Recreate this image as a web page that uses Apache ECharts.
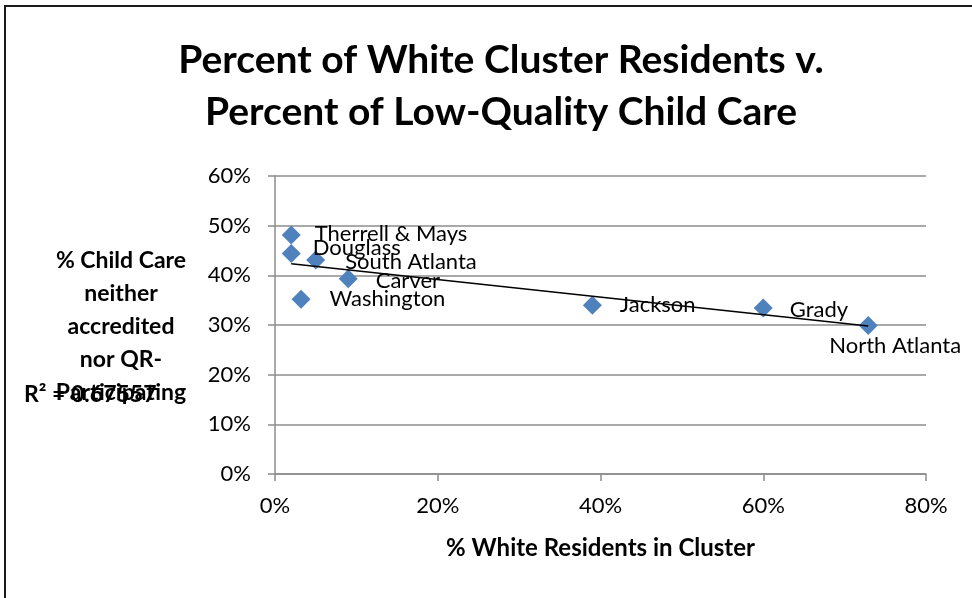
<!DOCTYPE html>
<html>
<head>
<meta charset="utf-8">
<script src="https://cdn.jsdelivr.net/npm/echarts@6/dist/echarts.min.js"></script>
<style>
  html, body { margin: 0; padding: 0; background: #fff; }
  #chart { width: 972px; height: 598px; }
</style>
</head>
<body>
<div id="chart"></div>
<script>
// Cluster names and their values (fractions)
const clusters = ['Therrell & Mays', 'Douglass', 'South Atlanta', 'Carver', 'Washington', 'Jackson', 'Grady', 'North Atlanta'];
const whiteShare = [0.020, 0.020, 0.050, 0.090, 0.032, 0.390, 0.600, 0.729];
const lowQualityShare = [0.481, 0.444, 0.431, 0.393, 0.352, 0.340, 0.334, 0.299];
const yTicks = [0, 0.1, 0.2, 0.3, 0.4, 0.5, 0.6];
const xTicks = [0, 0.2, 0.4, 0.6, 0.8];
const rSquaredText = 'R² = 0.67557';

// Label placement per cluster: [position, dx, dy]
const labelPlacement = [
  ['right', 9, -1],
  ['right', 7, -6],
  ['right', 15, 2],
  ['right', 13, 2],
  ['right', 14, 0],
  ['right', 13, 0],
  ['right', 12, 2],
  ['bottom', 27, -5]
];

// Least-squares linear trend
function linearFit(xs, ys) {
  const n = xs.length;
  const mx = xs.reduce((a, b) => a + b, 0) / n;
  const my = ys.reduce((a, b) => a + b, 0) / n;
  let sxy = 0, sxx = 0;
  for (let i = 0; i < n; i++) {
    sxy += (xs[i] - mx) * (ys[i] - my);
    sxx += (xs[i] - mx) * (xs[i] - mx);
  }
  const slope = sxy / sxx;
  return { slope, intercept: my - slope * mx };
}
const fit = linearFit(whiteShare, lowQualityShare);
const xMin = Math.min(...whiteShare), xMax = Math.max(...whiteShare);
const trendData = [[xMin, fit.intercept + fit.slope * xMin], [xMax, fit.intercept + fit.slope * xMax]];

const pointData = clusters.map((name, i) => ({
  name,
  value: [whiteShare[i], lowQualityShare[i]],
  label: {
    show: true,
    position: labelPlacement[i][0],
    offset: [labelPlacement[i][1], labelPlacement[i][2]],
    formatter: name
  }
}));

const pct = v => Math.round(v * 100) + '%';
const labelFont = 'Lato, "Open Sans", sans-serif';

const chart = echarts.init(document.getElementById('chart'), null, { renderer: 'canvas' });
chart.setOption({
  animation: false,
  backgroundColor: '#fff',
  title: {
    text: 'Percent of White Cluster Residents v.\nPercent of Low-Quality Child Care',
    left: 496,
    top: 29,
    textAlign: 'center',
    textStyle: {
      fontFamily: 'Lato, "Open Sans", sans-serif',
      fontWeight: 'bold',
      fontSize: 39,
      lineHeight: 52,
      color: '#000'
    }
  },
  grid: { left: 275, top: 176, width: 651, height: 298, containLabel: false },
  xAxis: {
    type: 'value',
    min: xTicks[0],
    max: xTicks[xTicks.length - 1],
    interval: 0.2,
    name: '% White Residents in Cluster',
    nameLocation: 'middle',
    nameGap: 62,
    nameTextStyle: { fontFamily: 'Lato, sans-serif', fontWeight: 'bold', fontSize: 24, color: '#000' },
    axisLine: { show: true, lineStyle: { color: '#8c8c8c', width: 1.5 } },
    axisTick: { show: true, inside: false, length: 7, lineStyle: { color: '#8c8c8c', width: 1.5 } },
    axisLabel: { formatter: pct, fontFamily: labelFont, fontSize: 22, color: '#000', margin: 21 },
    splitLine: { show: false }
  },
  yAxis: {
    type: 'value',
    min: yTicks[0],
    max: yTicks[yTicks.length - 1],
    interval: 0.1,
    axisLine: { show: true, lineStyle: { color: '#8c8c8c', width: 1.5 } },
    axisTick: { show: true, inside: false, length: 7, lineStyle: { color: '#8c8c8c', width: 1.5 } },
    axisLabel: { formatter: pct, fontFamily: labelFont, fontSize: 22, color: '#000', margin: 24 },
    splitLine: { show: true, lineStyle: { color: '#8c8c8c', width: 1.5 } }
  },
  series: [
    {
      type: 'line',
      data: trendData,
      symbol: 'none',
      lineStyle: { color: '#000', width: 1.5 },
      z: 3,
      silent: true
    },
    {
      type: 'scatter',
      data: pointData,
      symbol: 'diamond',
      symbolSize: 19,
      itemStyle: { color: '#4f81bd', opacity: 1 },
      label: {
        fontFamily: labelFont,
        fontSize: 22,
        color: '#000'
      },
      z: 2
    }
  ],
  graphic: [
    {
      type: 'rect',
      shape: { x: 5, y: 6, width: 990, height: 620 },
      style: { fill: 'none', stroke: '#1a1a1a', lineWidth: 2 },
      silent: true
    },
    {
      type: 'text',
      x: 121, y: 244,
      style: {
        text: '% Child Care\nneither\naccredited\nnor QR-\nParticipating',
        font: 'bold 23px Lato, sans-serif',
        fill: '#000',
        align: 'center',
        verticalAlign: 'top',
        lineHeight: 33
      }
    },
    {
      type: 'text',
      x: 24, y: 383,
      z: 10,
      style: {
        text: rSquaredText,
        font: 'bold 23px Lato, sans-serif',
        fill: '#000',
        verticalAlign: 'top'
      }
    }
  ]
});
</script>
</body>
</html>
